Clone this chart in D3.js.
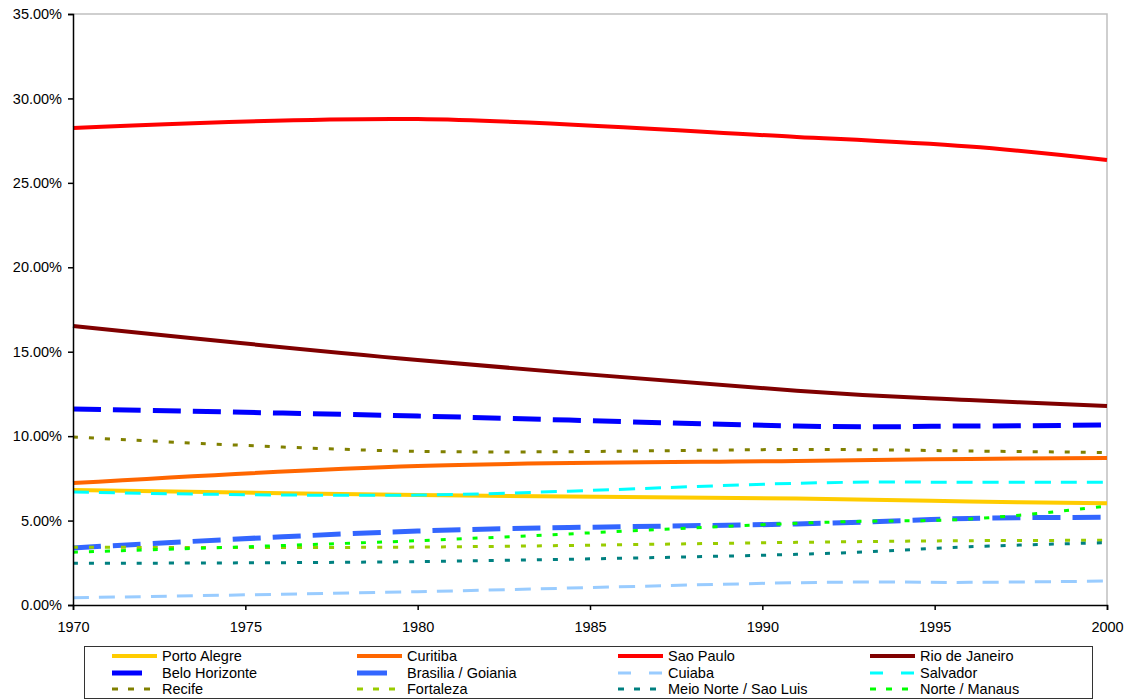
<!DOCTYPE html>
<html><head><meta charset="utf-8">
<script src="https://cdn.jsdelivr.net/npm/d3@7"></script>
<style>body{margin:0;background:#fff;} svg{display:block;font-family:"Liberation Sans",Arial,sans-serif;}</style>
</head><body><svg id="c" width="1133" height="700"></svg>
<script>
const years = [1970, 1980, 1991, 1996, 2000];
const seriesNames = ["Porto Alegre","Curitiba","Sao Paulo","Rio de Janeiro","Belo Horizonte","Brasilia / Goiania","Cuiaba","Salvador","Recife","Fortaleza","Meio Norte / Sao Luis","Norte / Manaus"];
const portoAlegre = [6.81, 6.51, 6.30, 6.13, 6.02];
const curitiba    = [7.22, 8.23, 8.53, 8.65, 8.71];
const saoPaulo    = [28.25, 28.78, 27.72, 27.15, 26.35];
const rioDeJaneiro= [16.52, 14.51, 12.69, 12.14, 11.78];
const beloHorizonte=[11.61, 11.19, 10.60, 10.60, 10.66];
const brasilia    = [3.38, 4.38, 4.80, 5.13, 5.19];
const cuiaba      = [0.43, 0.79, 1.32, 1.34, 1.42];
const salvador    = [6.69, 6.51, 7.21, 7.27, 7.27];
const recife      = [9.95, 9.10, 9.21, 9.12, 9.03];
const fortaleza   = [3.42, 3.43, 3.71, 3.81, 3.83];
const meioNorte   = [2.47, 2.57, 3.00, 3.45, 3.69];
const norteManaus = [3.13, 3.81, 4.84, 5.09, 5.86];
const seriesValues = [portoAlegre,curitiba,saoPaulo,rioDeJaneiro,beloHorizonte,brasilia,cuiaba,salvador,recife,fortaleza,meioNorte,norteManaus];
const xTicks = [1970,1975,1980,1985,1990,1995,2000];
const yTicks = [0,5,10,15,20,25,30,35];

const styles = [
 {c:"#FFCC00",w:4,d:null,ld:null},
 {c:"#FF6600",w:4,d:null,ld:null},
 {c:"#FF0000",w:4,d:null,ld:null},
 {c:"#800000",w:4,d:null,ld:null},
 {c:"#0000FF",w:5,d:"28,12",ld:"30,15"},
 {c:"#3366FF",w:5,d:"28,12",ld:"30,15"},
 {c:"#99CCFF",w:3,d:"16,10",ld:"13,18"},
 {c:"#00FFFF",w:3,d:"16,10",ld:"13,18"},
 {c:"#808000",w:3,d:"5,11",ld:"6,10"},
 {c:"#99CC00",w:3,d:"5,11",ld:"6,10"},
 {c:"#008080",w:3,d:"5,11",ld:"6,10"},
 {c:"#00FF00",w:3,d:"5,11",ld:"6,10"}
];

const svg = d3.select("#c");
const L=73, R=1107, T=14, B=605;
const FS = 14.5;
const x = d3.scaleLinear().domain([1970,2000]).range([L,R]);
const y = d3.scaleLinear().domain([0,35]).range([B,T]);

// plot border (top & right gray)
svg.append("path").attr("d",`M${L},${T}H${R}V${B}`).attr("fill","none").attr("stroke","#c0c0c0").attr("stroke-width",1.5);

const line = d3.line().x(d=>x(d[0])).y(d=>y(d[1])).curve(d3.curveCardinal.tension(0));
const g = svg.append("g");
seriesValues.forEach((vals,i)=>{
  const s = styles[i];
  g.append("path").datum(years.map((yr,j)=>[yr,vals[j]]))
   .attr("d",line).attr("fill","none").attr("stroke",s.c).attr("stroke-width",s.w)
   .attr("stroke-dasharray",s.d).attr("stroke-linecap","butt");
});

// axes
const yAxis = d3.axisLeft(y).tickValues(yTicks).tickFormat(d=>d3.format(".2f")(d)+"%").tickSize(5).tickPadding(6);
const ya = svg.append("g").attr("transform",`translate(${L},0)`).call(yAxis);
const xAxis = d3.axisBottom(x).tickValues(xTicks).tickFormat(d3.format("d")).tickSize(5).tickPadding(12);
const xa = svg.append("g").attr("transform",`translate(0,${B})`).call(xAxis);
[ya,xa].forEach(a=>{
  a.select(".domain").attr("stroke","#000").attr("stroke-width",1.5);
  a.selectAll(".tick line").attr("stroke","#000").attr("stroke-width",1.5);
  a.selectAll("text").attr("font-size",FS).attr("fill","#000").attr("font-family","Liberation Sans, Arial, sans-serif");
});

// legend
svg.append("rect").attr("x",84.5).attr("y",646.5).attr("width",1008).attr("height",52).attr("fill","#fff").attr("stroke","#333").attr("stroke-width",1);
const colX = [112, 357, 618, 870];
const rowY = [656, 673, 689];
seriesNames.forEach((n,i)=>{
  const col=i%4, row=Math.floor(i/4), s=styles[i];
  const lx=colX[col], ly=rowY[row];
  svg.append("line").attr("x1",lx).attr("x2",lx+45).attr("y1",ly).attr("y2",ly)
    .attr("stroke",s.c).attr("stroke-width",s.w).attr("stroke-dasharray",s.ld);
  svg.append("text").attr("x",lx+50).attr("y",ly+5).attr("font-size",FS).text(n);
});
</script></body></html>
